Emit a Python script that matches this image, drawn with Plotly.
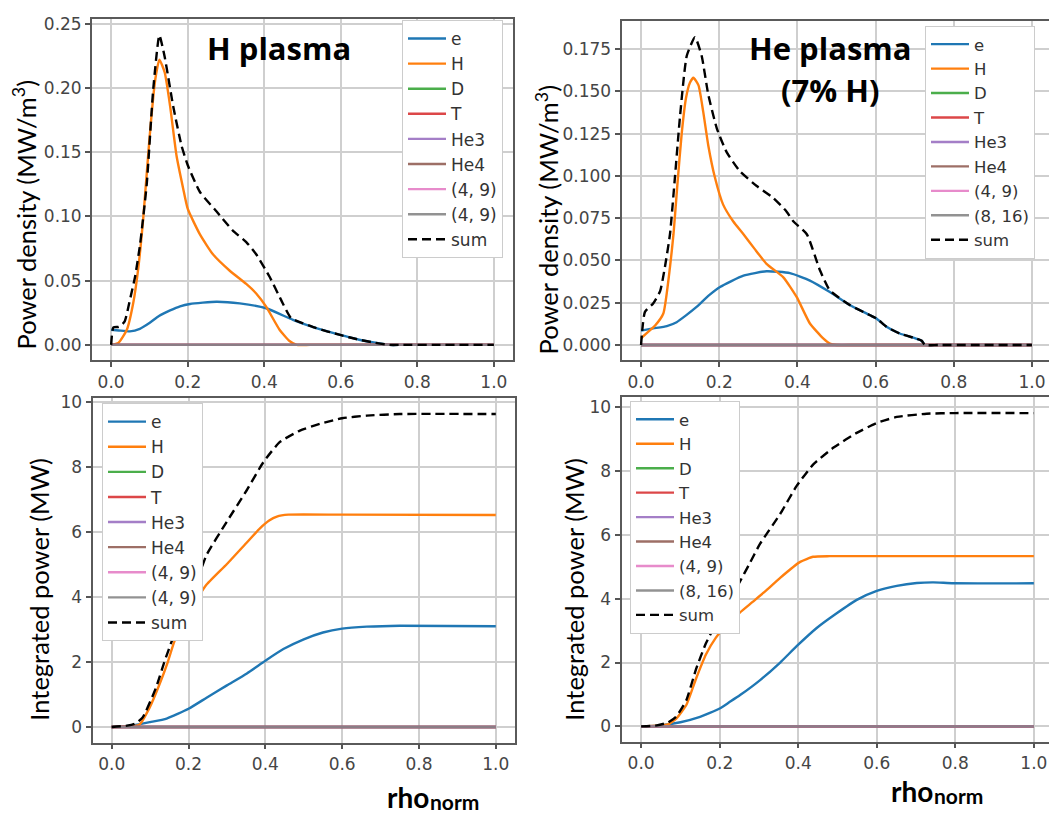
import plotly.graph_objects as go

# ---------------- data ----------------
x_ticks = [0.0, 0.2, 0.4, 0.6, 0.8, 1.0]
x_tick_text = ["0.0", "0.2", "0.4", "0.6", "0.8", "1.0"]
y_ticks_p1 = [0.0, 0.05, 0.10, 0.15, 0.20, 0.25]
y_tick_text_p1 = ["0.00", "0.05", "0.10", "0.15", "0.20", "0.25"]
y_ticks_p2 = [0.0, 0.025, 0.05, 0.075, 0.10, 0.125, 0.15, 0.175]
y_tick_text_p2 = ["0.000", "0.025", "0.050", "0.075", "0.100", "0.125", "0.150", "0.175"]
y_ticks_int = [0, 2, 4, 6, 8, 10]
y_tick_text_int = ["0", "2", "4", "6", "8", "10"]

species_names = ["e", "H", "D", "T", "He3", "He4", "(4, 9)"]
last_name_h = "(4, 9)"
last_name_he = "(8, 16)"

zero_x = [0.0, 1.0]
zero_y = [0.0, 0.0]

# Panel 1: H plasma, power density (MW/m^3)
p1_e_x = [0, 0.02, 0.049, 0.075, 0.1, 0.125, 0.154, 0.18, 0.206, 0.275, 0.336, 0.405, 0.475, 0.536, 0.596, 0.648, 0.69, 0.727, 0.76, 0.85, 1.0]
p1_e_y = [0.0118, 0.0112, 0.0105, 0.0125, 0.017, 0.0225, 0.0268, 0.0300, 0.0318, 0.0336, 0.0323, 0.0285, 0.0195, 0.013, 0.0079, 0.0040, 0.0016, 0.0, 0.0, 0.0, 0.0]
p1_H_x = [0, 0.019, 0.041, 0.058, 0.071, 0.084, 0.1, 0.115, 0.126, 0.14, 0.154, 0.171, 0.188, 0.2, 0.232, 0.266, 0.31, 0.353, 0.379, 0.405, 0.44, 0.466, 0.485, 0.52, 0.7, 1.0]
p1_H_y = [0, 0.0015, 0.0118, 0.033, 0.06, 0.099, 0.16, 0.206, 0.222, 0.212, 0.186, 0.147, 0.122, 0.106, 0.086, 0.0705, 0.0577, 0.0474, 0.040, 0.0297, 0.0118, 0.003, 0.0, 0.0, 0.0, 0.0]
p1_sum_x = [0, 0.006, 0.02, 0.035, 0.049, 0.0625, 0.0755, 0.093, 0.11, 0.126, 0.14, 0.162, 0.184, 0.2, 0.232, 0.275, 0.318, 0.353, 0.379, 0.414, 0.444, 0.47, 0.5, 0.536, 0.596, 0.648, 0.69, 0.727, 0.76, 0.85, 1.0]
p1_sum_y = [0, 0.0136, 0.014, 0.018, 0.035, 0.053, 0.078, 0.125, 0.199, 0.241, 0.224, 0.186, 0.155, 0.140, 0.119, 0.104, 0.089, 0.080, 0.0705, 0.053, 0.035, 0.0208, 0.017, 0.013, 0.0079, 0.0040, 0.0016, 0.0, 0.0, 0.0, 0.0]

# Panel 2: He plasma (7% H), power density (MW/m^3)
p2_e_x = [0, 0.031, 0.066, 0.091, 0.115, 0.142, 0.172, 0.202, 0.262, 0.321, 0.381, 0.432, 0.483, 0.535, 0.586, 0.603, 0.628, 0.662, 0.697, 0.718, 0.726, 0.76, 0.85, 1.0]
p2_e_y = [0.0085, 0.0098, 0.0112, 0.0135, 0.0175, 0.0225, 0.029, 0.0343, 0.041, 0.0436, 0.0425, 0.0381, 0.0313, 0.0235, 0.0176, 0.0156, 0.0108, 0.0068, 0.0043, 0.0025, 0.0, 0.0, 0.0, 0.0]
p2_H_x = [0, 0.0145, 0.036, 0.057, 0.074, 0.083, 0.093, 0.104, 0.115, 0.125, 0.134, 0.147, 0.159, 0.172, 0.189, 0.21, 0.236, 0.262, 0.29, 0.321, 0.364, 0.398, 0.432, 0.466, 0.483, 0.5, 0.55, 0.7, 1.0]
p2_H_y = [0.004, 0.007, 0.0115, 0.0186, 0.046, 0.0655, 0.095, 0.125, 0.146, 0.155, 0.158, 0.1535, 0.138, 0.118, 0.099, 0.083, 0.073, 0.0655, 0.057, 0.048, 0.040, 0.0284, 0.0127, 0.0039, 0.0008, 0.0, 0.0, 0.0, 0.0]
p2_sum_x = [0, 0.01, 0.031, 0.049, 0.061, 0.074, 0.087, 0.1, 0.117, 0.138, 0.155, 0.172, 0.194, 0.219, 0.253, 0.296, 0.338, 0.372, 0.39, 0.424, 0.458, 0.483, 0.535, 0.586, 0.603, 0.628, 0.662, 0.697, 0.718, 0.726, 0.76, 0.85, 1.0]
p2_sum_y = [0, 0.0196, 0.0245, 0.032, 0.046, 0.0655, 0.1, 0.136, 0.171, 0.182, 0.171, 0.148, 0.128, 0.114, 0.1027, 0.094, 0.087, 0.079, 0.073, 0.0655, 0.044, 0.0323, 0.0235, 0.0176, 0.0156, 0.0108, 0.0068, 0.0043, 0.0025, 0.0, 0.0, 0.0, 0.0]

# Panel 3: H plasma, integrated power (MW)
p3_e_x = [0, 0.056, 0.1, 0.143, 0.2, 0.247, 0.3, 0.352, 0.4, 0.447, 0.5, 0.55, 0.6, 0.664, 0.75, 1.0]
p3_e_y = [0, 0.05, 0.15, 0.26, 0.56, 0.9, 1.28, 1.65, 2.04, 2.40, 2.70, 2.91, 3.03, 3.09, 3.12, 3.10]
p3_H_x = [0, 0.05, 0.072, 0.098, 0.124, 0.146, 0.163, 0.185, 0.205, 0.225, 0.245, 0.3, 0.35, 0.386, 0.41, 0.43, 0.46, 0.6, 1.0]
p3_H_y = [0, 0.02, 0.07, 0.58, 1.3, 2.0, 2.63, 3.15, 3.6, 4.0, 4.36, 5.02, 5.66, 6.12, 6.36, 6.48, 6.54, 6.54, 6.53]
p3_sum_x = [0, 0.04, 0.06, 0.08, 0.115, 0.137, 0.159, 0.2, 0.225, 0.247, 0.3, 0.352, 0.395, 0.438, 0.49, 0.543, 0.6, 0.664, 0.75, 1.0]
p3_sum_y = [0, 0.04, 0.1, 0.28, 1.2, 2.0, 2.73, 3.95, 4.6, 5.3, 6.33, 7.3, 8.16, 8.78, 9.13, 9.34, 9.51, 9.59, 9.64, 9.64]

# Panel 4: He plasma (7% H), integrated power (MW)
p4_e_x = [0, 0.048, 0.1, 0.15, 0.175, 0.2, 0.225, 0.252, 0.303, 0.354, 0.396, 0.447, 0.498, 0.549, 0.6, 0.651, 0.702, 0.744, 0.795, 1.0]
p4_e_y = [0, 0.03, 0.13, 0.3, 0.42, 0.56, 0.76, 0.98, 1.45, 2.0, 2.51, 3.08, 3.54, 3.96, 4.24, 4.40, 4.49, 4.51, 4.48, 4.48]
p4_H_x = [0, 0.04, 0.068, 0.09, 0.115, 0.14, 0.165, 0.19, 0.22, 0.25, 0.284, 0.318, 0.354, 0.405, 0.438, 0.48, 0.6, 1.0]
p4_H_y = [0, 0.02, 0.06, 0.25, 0.67, 1.5, 2.25, 2.77, 3.2, 3.55, 3.9, 4.25, 4.65, 5.15, 5.31, 5.33, 5.33, 5.33]
p4_sum_x = [0, 0.04, 0.068, 0.089, 0.115, 0.14, 0.165, 0.19, 0.225, 0.25, 0.274, 0.303, 0.354, 0.396, 0.439, 0.49, 0.549, 0.6, 0.651, 0.727, 0.8, 1.0]
p4_sum_y = [0, 0.03, 0.12, 0.3, 0.82, 1.8, 2.6, 3.2, 3.95, 4.5, 5.05, 5.72, 6.65, 7.53, 8.21, 8.73, 9.19, 9.50, 9.69, 9.79, 9.81, 9.81]

# ---------------- styling ----------------
W, H = 1057, 814
OFF = 8                      # page body margin of the generated html
FW, FH = W - OFF, H - OFF    # figure size that fits the window
colors = ["#1f77b4", "#ff7f0e", "#2ca02c", "#d62728", "#9467bd", "#8c564b", "#e377c2", "#7f7f7f"]
LW = 2.4


def px_x(p):
    return (p - OFF) / FW


def px_y(p):
    return 1 - (p - OFF) / FH


panels = [
    dict(e=(p1_e_x, p1_e_y), h=(p1_H_x, p1_H_y), s=(p1_sum_x, p1_sum_y), last=last_name_h,
         xdom=(92, 513), ydom=(13, 357), yr=(-0.0121, 0.2537), yt=(y_ticks_p1, y_tick_text_p1),
         leg=(402, 14), legsize=17),
    dict(e=(p2_e_x, p2_e_y), h=(p2_H_x, p2_H_y), s=(p2_sum_x, p2_sum_y), last=last_name_he,
         xdom=(621.5, 1051.5), ydom=(15, 357), yr=(-0.0091, 0.1916), yt=(y_ticks_p2, y_tick_text_p2),
         leg=(925, 20), legsize=16.5),
    dict(e=(p3_e_x, p3_e_y), h=(p3_H_x, p3_H_y), s=(p3_sum_x, p3_sum_y), last=last_name_h,
         xdom=(92.5, 515), ydom=(395, 742), yr=(-0.48, 10.13), yt=(y_ticks_int, y_tick_text_int),
         leg=(102, 400), legsize=17),
    dict(e=(p4_e_x, p4_e_y), h=(p4_H_x, p4_H_y), s=(p4_sum_x, p4_sum_y), last=last_name_he,
         xdom=(621.5, 1053.5), ydom=(394, 741), yr=(-0.475, 10.31), yt=(y_ticks_int, y_tick_text_int),
         leg=(630, 398), legsize=16.5),
]

fig = go.Figure()
layout = dict(width=FW, height=FH, margin=dict(l=0, r=0, t=0, b=0),
              paper_bgcolor="white", plot_bgcolor="white", showlegend=True)

tick_font = dict(family="DejaVu Sans", size=17, color="#454545")

for i, p in enumerate(panels):
    n = i + 1
    sfx = "" if n == 1 else str(n)
    xa, ya = "x" + sfx, "y" + sfx
    lg = "legend" + sfx
    line_kw = dict(width=LW, shape="spline", smoothing=0.5)
    fig.add_trace(go.Scatter(x=p["e"][0], y=p["e"][1], name=species_names[0], mode="lines",
                             line=dict(color=colors[0], **line_kw), xaxis=xa, yaxis=ya, legend=lg))
    fig.add_trace(go.Scatter(x=p["h"][0], y=p["h"][1], name=species_names[1], mode="lines",
                             line=dict(color=colors[1], **line_kw), xaxis=xa, yaxis=ya, legend=lg))
    zero_names = species_names[2:] + [p["last"]]
    for k, nm in enumerate(zero_names):
        fig.add_trace(go.Scatter(x=zero_x, y=zero_y, name=nm, mode="lines",
                                 line=dict(color=colors[k + 2], width=LW), opacity=0.85,
                                 xaxis=xa, yaxis=ya, legend=lg))
    fig.add_trace(go.Scatter(x=p["s"][0], y=p["s"][1], name="sum", mode="lines",
                             line=dict(color="black", dash="9px,5px", **line_kw),
                             xaxis=xa, yaxis=ya, legend=lg))

    common = dict(ticks="outside", ticklen=5, tickwidth=1.5, tickcolor="#555", tickfont=tick_font,
                  showgrid=True, gridcolor="#cfcfcf", gridwidth=1.5, zeroline=False,
                  showline=True, mirror=True, linecolor="#5a5a5a", linewidth=1.8)
    layout["xaxis" + sfx] = dict(
        domain=[px_x(p["xdom"][0]), px_x(p["xdom"][1])], anchor=ya, range=[-0.05, 1.05],
        tickvals=x_ticks, ticktext=x_tick_text, **common)
    layout["yaxis" + sfx] = dict(
        domain=[px_y(p["ydom"][1]), px_y(p["ydom"][0])], anchor=xa, range=list(p["yr"]),
        tickvals=p["yt"][0], ticktext=p["yt"][1], **common)
    layout[lg] = dict(
        x=px_x(p["leg"][0]), y=px_y(p["leg"][1]), xanchor="left", yanchor="top",
        bgcolor="white", bordercolor="#cccccc", borderwidth=1, tracegroupgap=0, itemwidth=38,
        font=dict(family="DejaVu Sans", size=p["legsize"], color="#333333"))

fig.update_layout(**layout)

label_font = dict(family="Lato", size=25.5, color="black")
title_font = dict(family="Open Sans", size=31, color="black", weight="bold")
rho_font = dict(family="Lato", size=28, color="black", weight="bold")
norm_font = dict(family="Lato", size=21, color="black", weight="bold")

annos = [
    dict(text="Power density (MW/m<sup>3</sup>)", x=px_x(25), y=px_y(211), textangle=-90, font=label_font),
    dict(text="Power density (MW/m<sup>3</sup>)", x=px_x(547), y=px_y(216), textangle=-90, font=label_font),
    dict(text="Integrated power (MW)", x=px_x(39), y=px_y(588), textangle=-90, font=label_font),
    dict(text="Integrated power (MW)", x=px_x(574), y=px_y(588), textangle=-90, font=label_font),
    dict(text="H plasma", x=px_x(279), y=px_y(42), font=title_font),
    dict(text="He plasma", x=px_x(830), y=px_y(42), font=title_font),
    dict(text="(7% H)", x=px_x(830), y=px_y(85), font=title_font),
    dict(text="rho", x=px_x(385), y=px_y(797), xanchor="left", font=rho_font),
    dict(text="norm", x=px_x(428), y=px_y(801), xanchor="left", font=norm_font),
    dict(text="rho", x=px_x(889), y=px_y(791), xanchor="left", font=rho_font),
    dict(text="norm", x=px_x(932), y=px_y(795), xanchor="left", font=norm_font),
]
for a in annos:
    a.setdefault("xanchor", "center")
    fig.add_annotation(xref="paper", yref="paper", showarrow=False, yanchor="middle", **a)

fig.write_html("out.html")
